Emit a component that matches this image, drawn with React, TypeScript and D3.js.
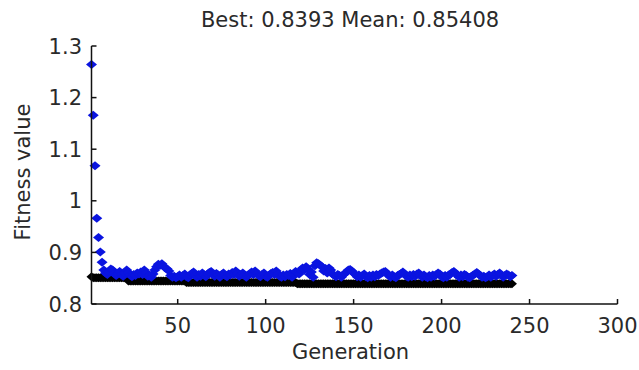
import * as d3 from "d3";
import { useEffect, useRef } from "react";

// mean fitness per generation (blue), gen 1..240
const meanFitness = [
  1.264, 1.166, 1.068, 0.966, 0.929, 0.901, 0.881, 0.866, 0.860, 0.857,
  0.862, 0.868, 0.866, 0.859, 0.855, 0.858, 0.863, 0.857, 0.854, 0.860,
  0.866, 0.861, 0.856, 0.853, 0.857, 0.855, 0.860, 0.858, 0.862, 0.857,
  0.866, 0.860, 0.854, 0.856, 0.852, 0.858, 0.866, 0.872, 0.877, 0.875,
  0.878, 0.873, 0.870, 0.868, 0.864, 0.855, 0.852, 0.854, 0.851, 0.853,
  0.856, 0.852, 0.855, 0.858, 0.853, 0.851, 0.856, 0.859, 0.862, 0.855,
  0.852, 0.857, 0.854, 0.860, 0.856, 0.853, 0.858, 0.861, 0.863, 0.857,
  0.854, 0.859, 0.856, 0.852, 0.857, 0.860, 0.855, 0.853, 0.858, 0.856,
  0.861, 0.857, 0.864, 0.859, 0.854, 0.857, 0.860, 0.855, 0.852, 0.856,
  0.858, 0.862, 0.857, 0.864, 0.859, 0.855, 0.853, 0.857, 0.860, 0.854,
  0.852, 0.856, 0.859, 0.861, 0.857, 0.864, 0.858, 0.854, 0.852, 0.856,
  0.853, 0.857, 0.855, 0.859, 0.852, 0.857, 0.863, 0.860, 0.858, 0.866,
  0.870, 0.866, 0.872, 0.868, 0.857, 0.862, 0.852, 0.874, 0.880, 0.878,
  0.875, 0.872, 0.864, 0.869, 0.860, 0.870, 0.866, 0.858, 0.855, 0.853,
  0.857, 0.855, 0.852, 0.856, 0.859, 0.862, 0.866, 0.867, 0.864, 0.860,
  0.857, 0.853, 0.856, 0.852, 0.855, 0.858, 0.853, 0.851, 0.855, 0.852,
  0.856, 0.853, 0.857, 0.855, 0.858, 0.860, 0.862, 0.863, 0.858, 0.855,
  0.852, 0.856, 0.853, 0.851, 0.855, 0.857, 0.859, 0.862, 0.858, 0.854,
  0.852, 0.856, 0.853, 0.857, 0.854, 0.858, 0.860, 0.855, 0.852, 0.856,
  0.853, 0.851, 0.855, 0.852, 0.856, 0.854, 0.857, 0.860, 0.858, 0.853,
  0.851, 0.855, 0.852, 0.856, 0.858, 0.861, 0.863, 0.859, 0.855, 0.852,
  0.856, 0.853, 0.857, 0.855, 0.852, 0.851, 0.854, 0.856, 0.858, 0.861,
  0.858, 0.855, 0.852, 0.854, 0.851, 0.853, 0.856, 0.852, 0.855, 0.858,
  0.854, 0.857, 0.860, 0.856, 0.852, 0.855, 0.858, 0.856, 0.853, 0.855,
];

// best fitness only changes at these generations (step function)
const bestImproveGen = [1, 2, 22, 55, 118];
const bestImproveValue = [0.853, 0.851, 0.8445, 0.8415, 0.8393];

const xTicks = [50, 100, 150, 200, 250, 300];
const yTicks = [0.8, 0.9, 1, 1.1, 1.2, 1.3];

const FONT = "'DejaVu Sans', sans-serif";
const TXT = "#2a2a2a";

function diamond(cx: number, cy: number, rx: number, ry: number) {
  return `M${cx},${cy - ry}L${cx + rx},${cy}L${cx},${cy + ry}L${cx - rx},${cy}Z`;
}

export default function App() {
  const ref = useRef<SVGSVGElement>(null);
  useEffect(() => {
    if (!ref.current) return;
    const svg = d3.select(ref.current);
    svg.selectAll("*").remove();

    const x = d3.scaleLinear().domain([1, 300]).range([91.5, 617.5]);
    const y = d3.scaleLinear().domain([0.8, 1.3]).range([304, 46]);

    const gens = meanFitness.map((_, i) => i + 1);
    const best = gens.map((g) => {
      const k = d3.bisectRight(bestImproveGen, g) - 1;
      return bestImproveValue[k];
    });

    // best (black) then mean (blue) on top
    svg.append("g").selectAll("path").data(gens).enter().append("path")
      .attr("d", (g, i) => diamond(x(g), y(best[i]), 5, 4.5))
      .attr("fill", "#000");
    svg.append("g").selectAll("path").data(gens).enter().append("path")
      .attr("d", (g, i) => diamond(x(g), y(meanFitness[i]), 5.5, 4.5))
      .attr("fill", "#0a14e0");

    // axes (left + bottom only, ticks inward)
    const ax = svg.append("g").attr("stroke", "#111").attr("stroke-width", 1.5).attr("fill", "none");
    ax.append("line").attr("x1", x(1)).attr("x2", x(1)).attr("y1", y(1.3)).attr("y2", y(0.8));
    ax.append("line").attr("x1", x(1)).attr("x2", x(300)).attr("y1", y(0.8)).attr("y2", y(0.8));
    yTicks.forEach((t) => {
      ax.append("line").attr("x1", x(1)).attr("x2", x(1) + 5).attr("y1", y(t)).attr("y2", y(t));
    });
    xTicks.forEach((t) => {
      ax.append("line").attr("x1", x(t)).attr("x2", x(t)).attr("y1", y(0.8)).attr("y2", y(0.8) - 5);
    });

    const lbl = svg.append("g").attr("font-family", FONT).attr("font-size", 21).attr("fill", TXT);
    yTicks.forEach((t) => {
      lbl.append("text").attr("x", 82).attr("y", y(t)).attr("dy", "0.36em")
        .attr("text-anchor", "end").text(d3.format("~g")(t));
    });
    xTicks.forEach((t) => {
      lbl.append("text").attr("x", x(t)).attr("y", 333)
        .attr("text-anchor", "middle").text(String(t));
    });

    lbl.append("text").attr("x", 350).attr("y", 27).attr("text-anchor", "middle")
      .text("Best: 0.8393 Mean: 0.85408");
    lbl.append("text").attr("x", 350.5).attr("y", 359).attr("text-anchor", "middle")
      .text("Generation");
    lbl.append("text").attr("transform", "translate(30,172) rotate(-90)")
      .attr("text-anchor", "middle").text("Fitness value");
  }, []);

  return (
    <svg ref={ref} width={639} height={370}
      style={{ position: "absolute", left: 0, top: 0, background: "#fff" }} />
  );
}
